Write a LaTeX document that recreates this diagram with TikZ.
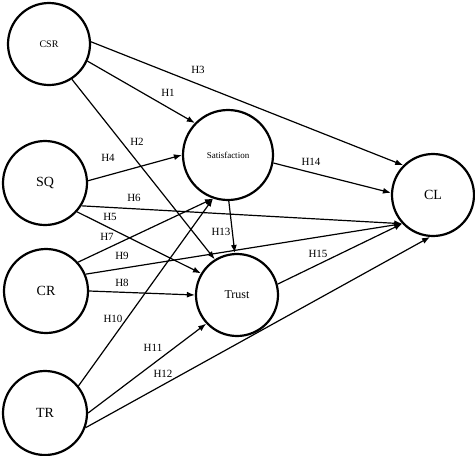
\documentclass[tikz,border=0pt]{standalone}
\usepackage{fontspec}
\setmainfont{Liberation Serif}
\usetikzlibrary{arrows.meta}
\begin{document}
\begin{tikzpicture}[x=1pt,y=-1pt,
  var/.style={circle,draw,line width=2.2pt,inner sep=0pt,font=\fontsize{14}{14}\selectfont},
  hyp/.style={line width=1.2pt,-{Latex[length=8pt,width=6pt]}},
  hlab/.style={font=\fontsize{11}{11}\selectfont,inner sep=0pt}]
\useasboundingbox (0,0) rectangle (475,456);
\node[var,minimum size=82pt,font=\fontsize{10}{10}\selectfont] (csr) at (49,44) {CSR};
\node[var,minimum size=84pt] (sq) at (45,183) {SQ};
\node[var,minimum size=84pt] (cr) at (46,291) {CR};
\node[var,minimum size=84pt] (tr) at (45,413) {TR};
\node[var,minimum size=90pt,font=\fontsize{9}{9}\selectfont] (sat) at (228,155) {Satisfaction};
\node[var,minimum size=82pt,font=\fontsize{12}{12}\selectfont] (trust) at (237,295) {Trust};
\node[var,minimum size=82pt] (cl) at (433,195) {CL};
\draw[hyp] (csr.-24) -- (sat.136);
\draw[hyp] (csr.-57) -- (trust.122);
\draw[hyp] (csr.3) -- (cl.135);
\draw[hyp] (sq.3) -- (sat.180);
\draw[hyp] (sq.-42) -- (trust.149);
\draw[hyp] (sq.-32) -- (cl.223);
\draw[hyp] (cr.42) -- (sat.251);
\draw[hyp] (cr.0) -- (trust.180);
\draw[hyp] (cr.23) -- (cl.223);
\draw[hyp] (tr.39) -- (sat.251);
\draw[hyp] (tr.0) -- (trust.223);
\draw[hyp] (tr.-20) -- (cl.266);
\draw[hyp] (sat.-89) -- (trust.93);
\draw[hyp] (sat.-10) -- (cl.177);
\draw[hyp] (trust.15) -- (cl.223);
\node[hlab] (l1) at (168,93) {H1};
\node[hlab] (l2) at (137,142) {H2};
\node[hlab] (l3) at (198,70) {H3};
\node[hlab] (l4) at (108,158) {H4};
\node[hlab] (l5) at (110,217) {H5};
\node[hlab] (l6) at (134,198) {H6};
\node[hlab] (l7) at (107,237) {H7};
\node[hlab] (l8) at (122,283) {H8};
\node[hlab] (l9) at (122,256) {H9};
\node[hlab] (l10) at (113,319) {H10};
\node[hlab] (l11) at (153,348) {H11};
\node[hlab] (l12) at (163,374) {H12};
\node[hlab] (l13) at (221,232) {H13};
\node[hlab] (l14) at (311,162) {H14};
\node[hlab] (l15) at (318,254) {H15};
\end{tikzpicture}
\end{document}
